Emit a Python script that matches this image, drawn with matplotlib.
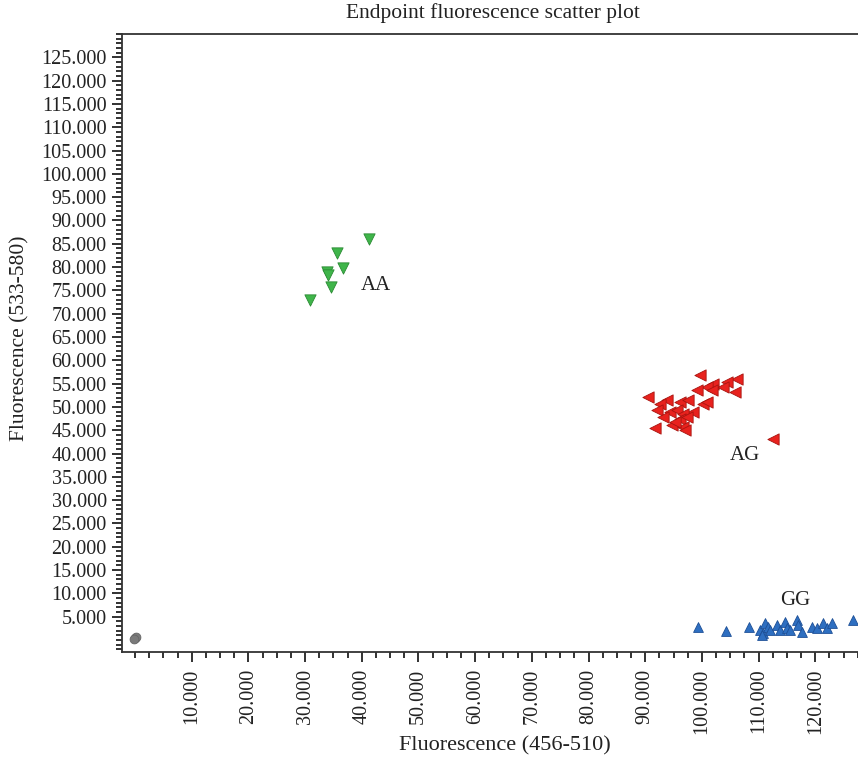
import matplotlib
matplotlib.use('Agg')
import matplotlib.pyplot as plt
from matplotlib.ticker import MultipleLocator, FuncFormatter
import numpy as np

# endpoint fluorescence values
aa_x = [41330, 35570, 36740, 33800, 34100, 34510, 30860]
aa_y = [86080, 83080, 79870, 78930, 78220, 75720, 73010]

ag_x = [99670, 106140, 104380, 102010, 100850, 99080, 105840, 90550, 103720,
        101730, 93790, 96140, 97600, 100250, 100850, 92610, 92020, 94370,
        95550, 98480, 96720, 93180, 96140, 97320, 94670, 96720, 91730, 97020,
        95260, 112600]
ag_y = [56790, 56080, 55350, 55010, 54280, 53570, 53210, 52140, 54280,
        53570, 51430, 51070, 51430, 50720, 51070, 50720, 49290, 48920,
        49290, 48920, 48580, 47850, 47510, 47850, 46070, 45710, 45580, 45000,
        46780, 43220]

gg_x = [99370, 104250, 108360, 110250, 110830, 111130, 111720, 110550, 112010,
        113200, 113780, 114660, 114960, 115540, 116720, 117010, 117610, 119370,
        120250, 121420, 122020, 122900, 126710]
gg_y = [2720, 1990, 2720, 2140, 1440, 3580, 2850, 1070, 2140,
        3210, 2140, 3920, 2510, 2140, 4290, 3210, 1780, 2720,
        2510, 3580, 2510, 3580, 4290]

ntc_x = [0, 200, -150]
ntc_y = [400, 550, 300]

labels = ['AA', 'AG', 'GG']
label_x = [42510, 107600, 116420]
label_y = [76000, 39650, 8570]

plt.rcParams['font.family'] = ['Liberation Serif', 'DejaVu Serif']

fig = plt.figure(figsize=(8.58, 7.67), dpi=100)
W, H = 858.0, 767.0
# axes runs a little past the right edge of the picture
ax = fig.add_axes([122 / W, 1 - 652 / H, (865 - 122) / W, (652 - 34) / H])

ax.scatter(ntc_x, ntc_y, marker='o', s=40, color='#7a7a7a', edgecolors='#666666', linewidths=0.6, zorder=3)
ax.scatter(aa_x, aa_y, marker='v', s=66, color='#3fb54a', edgecolors='#2a8a33', linewidths=0.6, zorder=3)
ax.scatter(ag_x, ag_y, marker='<', s=66, color='#e8221e', edgecolors='#a8140f', linewidths=0.6, zorder=3)
ax.scatter(gg_x, gg_y, marker='^', s=50, color='#2e6fc1', edgecolors='#1d4f96', linewidths=0.6, zorder=3)

for lab, lx, ly in zip(labels, label_x, label_y):
    ax.text(lx, ly, lab, fontsize=15, ha='center', va='center', color='#222222')

ax.set_xlim(-2290, 128770)
ax.set_ylim(-2570, 130000)

fmt = FuncFormatter(lambda v, pos: '' if v <= 0 else '{:,}'.format(int(round(v))).replace(',', '.'))

ax.xaxis.set_major_locator(MultipleLocator(10000))
ax.xaxis.set_minor_locator(MultipleLocator(2500))
ax.yaxis.set_major_locator(MultipleLocator(5000))
ax.yaxis.set_minor_locator(MultipleLocator(1000))
ax.xaxis.set_major_formatter(fmt)
ax.yaxis.set_major_formatter(fmt)

ax.tick_params(axis='both', which='major', direction='out', length=7, width=1.3,
               color='#222222', labelsize=14.5, labelcolor='#222222')
ax.tick_params(axis='both', which='minor', direction='out', length=4.5, width=1.3,
               color='#222222')
ax.tick_params(axis='x', which='major', labelrotation=90, pad=5)
ax.tick_params(axis='y', which='major', pad=4)

# drop the zero ticks
ax.set_xticks([t for t in np.arange(10000, 125001, 10000)])
ax.set_yticks([t for t in np.arange(5000, 125001, 5000)])

for side in ['left', 'bottom', 'top']:
    ax.spines[side].set_linewidth(1.3)
    ax.spines[side].set_color('#333333')
ax.spines['right'].set_visible(False)

fig.text(493 / W, 1 - 13 / H, 'Endpoint fluorescence scatter plot', fontsize=15.5,
         ha='center', va='center', color='#222222')
fig.text(505 / W, 1 - 746 / H, 'Fluorescence (456-510)', fontsize=16,
         ha='center', va='center', color='#222222')
fig.text(20 / W, 1 - 338 / H, 'Fluorescence (533-580)', fontsize=15.5,
         ha='center', va='center', rotation=90, color='#222222')

plt.savefig('out.png', dpi=100)
